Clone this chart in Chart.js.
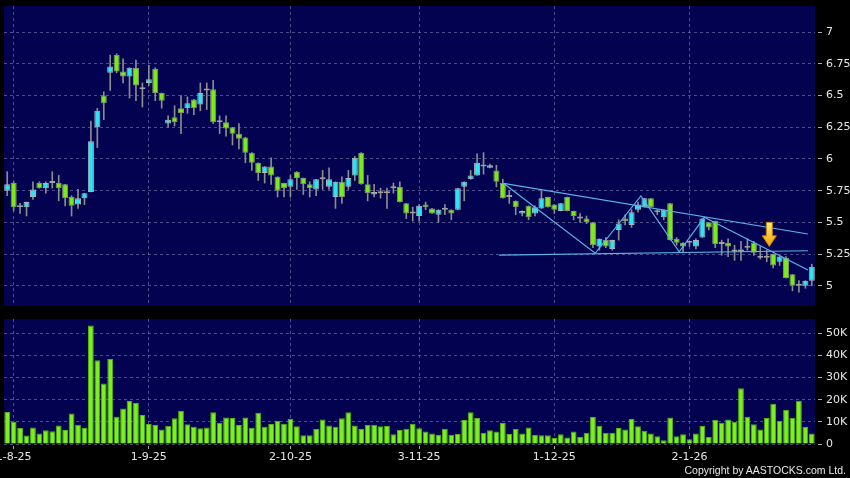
<!DOCTYPE html>
<html lang="en">
<head>
<meta charset="UTF-8">
<title>Daily chart</title>
<style>
body {
    margin: 0;
    background: #000;
    width: 850px;
    height: 478px;
    overflow: hidden;
    position: relative;
}
#priceChart { position: absolute; left: 0; top: 0; }
#volChart { position: absolute; left: 0; top: 310px; }
#copy {
    position: absolute;
    right: 4px;
    top: 464px;
    font: 10.5px "Liberation Sans", Arial, sans-serif;
    color: #e8e8e8;
    white-space: nowrap;
}
</style>
</head>
<body>
<canvas id="priceChart" width="850" height="310"></canvas>
<canvas id="volChart" width="850" height="168"></canvas>
<div id="copy">Copyright by AASTOCKS.com Ltd.</div>
<script src="https://cdn.jsdelivr.net/npm/chart.js@4"></script>
<script>
// daily candles (index 0 = 31 Jul 2025)
const open = [
    5.75, 5.81, 5.62, 5.62, 5.70, 5.81, 5.77, 5.81, 5.81, 5.80,
    5.70, 5.64, 5.69, 5.74, 6.25, 6.50, 6.68, 6.82, 6.69, 6.65,
    6.72, 6.55, 6.60, 6.71, 6.52, 6.28, 6.33, 6.40, 6.40, 6.47,
    6.43, 6.54, 6.55, 6.29, 6.29, 6.25, 6.20, 6.17, 6.05, 5.97,
    5.89, 5.94, 5.86, 5.81, 5.78, 5.90, 5.85, 5.80, 5.76, 5.84,
    5.78, 5.70, 5.82, 5.78, 5.87, 6.05, 5.80, 5.72, 5.73, 5.73,
    5.77, 5.78, 5.65, 5.57, 5.55, 5.64, 5.61, 5.56, 5.60, 5.60,
    5.60, 5.78, 5.84, 5.87, 5.94, 5.93, 5.91, 5.81, 5.70, 5.67,
    5.57, 5.63, 5.57, 5.61, 5.70, 5.64, 5.59, 5.70, 5.59, 5.53,
    5.53, 5.50, 5.31, 5.36, 5.29, 5.44, 5.53, 5.48, 5.60, 5.62,
    5.69, 5.58, 5.54, 5.65, 5.37, 5.34, 5.34, 5.31, 5.38, 5.50,
    5.51, 5.33, 5.34, 5.27, 5.27, 5.30, 5.34, 5.22, 5.22, 5.25,
    5.19, 5.22, 5.09, 5.00, 5.00, 5.04
];
const high = [
    5.90, 5.82, 5.65, 5.66, 5.82, 5.82, 5.82, 5.90, 5.87, 5.80,
    5.71, 5.76, 5.73, 6.30, 6.40, 6.53, 6.82, 6.83, 6.79, 6.72,
    6.78, 6.60, 6.74, 6.72, 6.52, 6.34, 6.42, 6.50, 6.49, 6.47,
    6.60, 6.60, 6.62, 6.34, 6.34, 6.25, 6.28, 6.17, 6.05, 5.97,
    5.94, 6.01, 5.86, 5.81, 5.87, 5.90, 5.85, 5.82, 5.84, 5.91,
    5.93, 5.82, 5.86, 5.91, 6.02, 6.05, 5.87, 5.80, 5.77, 5.77,
    5.81, 5.82, 5.65, 5.62, 5.64, 5.66, 5.61, 5.60, 5.64, 5.60,
    5.77, 5.82, 5.91, 6.04, 6.05, 5.96, 5.95, 5.84, 5.75, 5.67,
    5.59, 5.63, 5.63, 5.75, 5.70, 5.64, 5.65, 5.70, 5.59, 5.57,
    5.55, 5.50, 5.37, 5.38, 5.36, 5.52, 5.56, 5.60, 5.66, 5.69,
    5.69, 5.60, 5.60, 5.65, 5.38, 5.34, 5.35, 5.37, 5.53, 5.50,
    5.51, 5.36, 5.37, 5.32, 5.35, 5.37, 5.35, 5.31, 5.28, 5.25,
    5.23, 5.23, 5.09, 5.04, 5.04, 5.17
];
const low = [
    5.71, 5.59, 5.57, 5.55, 5.68, 5.77, 5.73, 5.77, 5.67, 5.63,
    5.55, 5.61, 5.64, 5.74, 6.09, 6.31, 6.54, 6.68, 6.60, 6.48,
    6.46, 6.41, 6.58, 6.46, 6.40, 6.25, 6.26, 6.20, 6.36, 6.35,
    6.38, 6.39, 6.28, 6.20, 6.18, 6.11, 6.08, 5.97, 5.91, 5.83,
    5.81, 5.80, 5.70, 5.70, 5.70, 5.76, 5.72, 5.70, 5.71, 5.76,
    5.76, 5.61, 5.65, 5.76, 5.83, 5.80, 5.67, 5.70, 5.69, 5.61,
    5.73, 5.66, 5.53, 5.51, 5.51, 5.60, 5.57, 5.50, 5.56, 5.52,
    5.60, 5.67, 5.84, 5.87, 5.88, 5.93, 5.78, 5.69, 5.65, 5.56,
    5.55, 5.52, 5.55, 5.61, 5.62, 5.57, 5.59, 5.59, 5.52, 5.50,
    5.49, 5.30, 5.28, 5.30, 5.28, 5.36, 5.48, 5.46, 5.58, 5.62,
    5.62, 5.56, 5.52, 5.36, 5.32, 5.26, 5.31, 5.29, 5.38, 5.44,
    5.30, 5.24, 5.23, 5.20, 5.20, 5.28, 5.24, 5.21, 5.19, 5.14,
    5.16, 5.06, 4.96, 4.95, 4.98, 5.00
];
const close = [
    5.80, 5.62, 5.62, 5.66, 5.76, 5.77, 5.81, 5.81, 5.77, 5.69,
    5.63, 5.69, 5.73, 6.14, 6.38, 6.44, 6.73, 6.69, 6.65, 6.72,
    6.58, 6.55, 6.63, 6.52, 6.46, 6.31, 6.29, 6.36, 6.44, 6.40,
    6.52, 6.54, 6.29, 6.29, 6.24, 6.20, 6.16, 6.05, 5.97, 5.89,
    5.94, 5.87, 5.75, 5.77, 5.84, 5.85, 5.80, 5.77, 5.84, 5.84,
    5.84, 5.82, 5.70, 5.85, 6.01, 5.80, 5.73, 5.74, 5.73, 5.73,
    5.77, 5.66, 5.57, 5.57, 5.63, 5.62, 5.57, 5.60, 5.60, 5.57,
    5.77, 5.82, 5.87, 5.97, 5.94, 5.95, 5.82, 5.69, 5.70, 5.62,
    5.59, 5.54, 5.62, 5.69, 5.62, 5.60, 5.65, 5.59, 5.55, 5.53,
    5.50, 5.32, 5.37, 5.31, 5.36, 5.49, 5.51, 5.58, 5.64, 5.69,
    5.62, 5.58, 5.60, 5.36, 5.34, 5.31, 5.34, 5.36, 5.53, 5.46,
    5.33, 5.33, 5.31, 5.27, 5.27, 5.30, 5.26, 5.22, 5.22, 5.16,
    5.23, 5.06, 5.00, 5.00, 5.04, 5.15
];
// volume in thousands of shares
const volumeK = [
    14.5, 10.0, 7.2, 3.8, 7.5, 4.8, 6.2, 5.8, 8.4, 6.3,
    13.8, 8.7, 7.2, 53.6, 37.8, 27.3, 38.4, 12.3, 16.1, 19.4,
    18.5, 13.1, 9.0, 8.6, 6.6, 8.3, 11.6, 14.9, 8.9, 7.8,
    7.1, 7.5, 14.4, 9.6, 12.0, 11.7, 8.6, 12.0, 7.3, 14.1,
    7.8, 9.0, 10.5, 9.1, 11.4, 8.0, 3.9, 3.9, 6.8, 11.1,
    8.4, 7.8, 11.6, 14.3, 8.4, 6.8, 8.6, 8.7, 8.0, 8.1,
    4.4, 6.3, 6.9, 9.1, 7.1, 5.7, 4.8, 4.1, 6.9, 4.2,
    4.5, 10.8, 14.3, 11.7, 5.1, 6.2, 5.7, 9.5, 4.5, 6.8,
    4.8, 7.5, 4.1, 3.9, 3.9, 2.7, 4.4, 2.9, 5.6, 3.2,
    5.1, 12.2, 8.3, 5.1, 5.1, 7.2, 6.5, 11.3, 8.0, 6.0,
    4.7, 3.5, 1.7, 12.0, 3.5, 4.4, 2.1, 4.8, 8.1, 3.2,
    10.8, 9.6, 11.1, 10.1, 25.2, 12.3, 8.9, 6.6, 11.7, 18.2,
    10.4, 15.4, 11.9, 19.6, 7.7, 4.7
];

const xTickIdx = [1, 22, 44, 64, 85, 106];
const xTickLabels = ['1-8-25', '1-9-25', '2-10-25', '3-11-25', '1-12-25', '2-1-26'];
const priceTicks = [5, 5.25, 5.5, 5.75, 6, 6.25, 6.5, 6.75, 7];
const volTicks = [0, 10, 20, 30, 40, 50];

// drawn trend lines: [candle index, price]
const trendUpper = [[77.1, 5.808], [124.4, 5.408]];
const trendZigzag = [[77.1, 5.808], [91.35, 5.256], [98.45, 5.708], [104.4, 5.268], [108.3, 5.540], [124.4, 5.124]];
const trendSupport = [[76.4, 5.242], [124.4, 5.276]];
const arrowAt = { x: 118.4, top: 5.50, tip: 5.31 };

const gridCol = 'rgba(150, 150, 200, 0.5)';
const tickCol = '#e6e6e6';
const tickFont = { family: 'DejaVu Sans', size: 11 };

const plotBg = {
    id: 'plotBg',
    beforeDraw(chart) {
        const { ctx, chartArea: a } = chart;
        ctx.save();
        ctx.fillStyle = '#020250';
        ctx.fillRect(a.left, a.top, a.right - a.left, a.bottom - a.top);
        ctx.restore();
    }
};

const arrowMark = {
    id: 'arrowMark',
    afterDatasetsDraw(chart) {
        const { ctx, scales } = chart;
        const cx = scales.x.getPixelForValue(arrowAt.x);
        const yTop = scales.y.getPixelForValue(arrowAt.top);
        const yTip = scales.y.getPixelForValue(arrowAt.tip);
        const yHead = yTip - (yTip - yTop) * 0.44;
        const g = ctx.createLinearGradient(0, yTop, 0, yTip);
        g.addColorStop(0, '#fff27a');
        g.addColorStop(1, '#f5a000');
        ctx.save();
        ctx.beginPath();
        ctx.moveTo(cx - 3, yTop);
        ctx.lineTo(cx + 3, yTop);
        ctx.lineTo(cx + 3, yHead);
        ctx.lineTo(cx + 7, yHead);
        ctx.lineTo(cx, yTip);
        ctx.lineTo(cx - 7, yHead);
        ctx.lineTo(cx - 3, yHead);
        ctx.closePath();
        ctx.fillStyle = g;
        ctx.fill();
        ctx.strokeStyle = '#c98400';
        ctx.lineWidth = 1;
        ctx.stroke();
        ctx.restore();
    }
};

function xAxis(showLabels) {
    return {
        type: 'linear',
        offset: false,
        min: -0.5,
        max: open.length - 0.5,
        afterBuildTicks: s => { s.ticks = xTickIdx.map(v => ({ value: v })); },
        afterFit: s => {
            s.height = showLabels ? 34 : 0;
            s.paddingLeft = 0;
            s.paddingRight = 0;
        },
        grid: {
            offset: false,
            color: gridCol,
            drawTicks: showLabels,
            tickLength: 5,
            tickColor: '#aaaaaa',
            tickBorderDash: [0, 2, 3, 20]
        },
        border: { display: false, dash: [3, 3] },
        ticks: {
            display: showLabels,
            autoSkip: false,
            maxRotation: 0,
            padding: 2,
            color: tickCol,
            font: tickFont,
            callback: (v, i) => xTickLabels[i]
        }
    };
}

function yAxis(min, max, values, fmt) {
    return {
        position: 'right',
        min: min,
        max: max,
        afterBuildTicks: s => { s.ticks = values.map(v => ({ value: v })); },
        afterFit: s => {
            s.width = 35;
            s.paddingTop = 0;
            s.paddingBottom = 0;
        },
        grid: {
            color: gridCol,
            tickLength: 8,
            tickColor: '#aaaaaa',
            tickBorderDash: [0, 3, 4, 40]
        },
        border: { display: false, dash: [3, 3] },
        ticks: { color: tickCol, font: tickFont, padding: 3, callback: fmt }
    };
}

const bodyBg = open.map((o, i) => close[i] > o ? '#30e2f0' : close[i] < o ? '#7ce81e' : '#a0a0a0');
const bodyBorder = open.map((o, i) => close[i] > o ? '#a8b4bc' : close[i] < o ? '#7f9a66' : '#a0a0a0');

function lineSet(points) {
    return {
        type: 'line',
        data: points.map(p => ({ x: p[0], y: p[1] })),
        borderColor: '#5ab4e8',
        borderWidth: 1.2,
        pointRadius: 0,
        order: 0
    };
}

new Chart(document.getElementById('priceChart'), {
    type: 'bar',
    data: {
        datasets: [
            lineSet(trendUpper),
            lineSet(trendZigzag),
            lineSet(trendSupport),
            {
                data: open.map((o, i) => ({ x: i, y: [Math.min(o, close[i]), Math.max(o, close[i])] })),
                backgroundColor: bodyBg,
                borderColor: bodyBorder,
                borderWidth: 1,
                borderSkipped: false,
                minBarLength: 2,
                grouped: false,
                barPercentage: 0.94,
                categoryPercentage: 1,
                order: 1
            },
            {
                data: low.map((l, i) => ({ x: i, y: [l, high[i]] })),
                backgroundColor: '#8c8c8c',
                barThickness: 1,
                grouped: false,
                order: 2
            }
        ]
    },
    options: {
        responsive: false,
        animation: false,
        events: [],
        layout: { padding: { left: 4, top: 6, right: 0, bottom: 4 } },
        plugins: { legend: { display: false }, tooltip: { enabled: false } },
        scales: {
            x: xAxis(false),
            y: yAxis(4.84, 7.207, priceTicks, v => String(v))
        }
    },
    plugins: [plotBg, arrowMark]
});

new Chart(document.getElementById('volChart'), {
    type: 'bar',
    data: {
        datasets: [{
            data: volumeK.map((v, i) => ({ x: i, y: v })),
            backgroundColor: '#7cf01e',
            borderColor: '#55b010',
            borderWidth: 1,
            grouped: false,
            barPercentage: 0.9,
            categoryPercentage: 1
        }]
    },
    options: {
        responsive: false,
        animation: false,
        events: [],
        layout: { padding: { left: 4, top: 9, right: 0, bottom: 0 } },
        plugins: { legend: { display: false }, tooltip: { enabled: false } },
        scales: {
            x: xAxis(true),
            y: yAxis(0, 56.5, volTicks, v => v === 0 ? '0' : v + 'K')
        }
    },
    plugins: [plotBg]
});
</script>
</body>
</html>
